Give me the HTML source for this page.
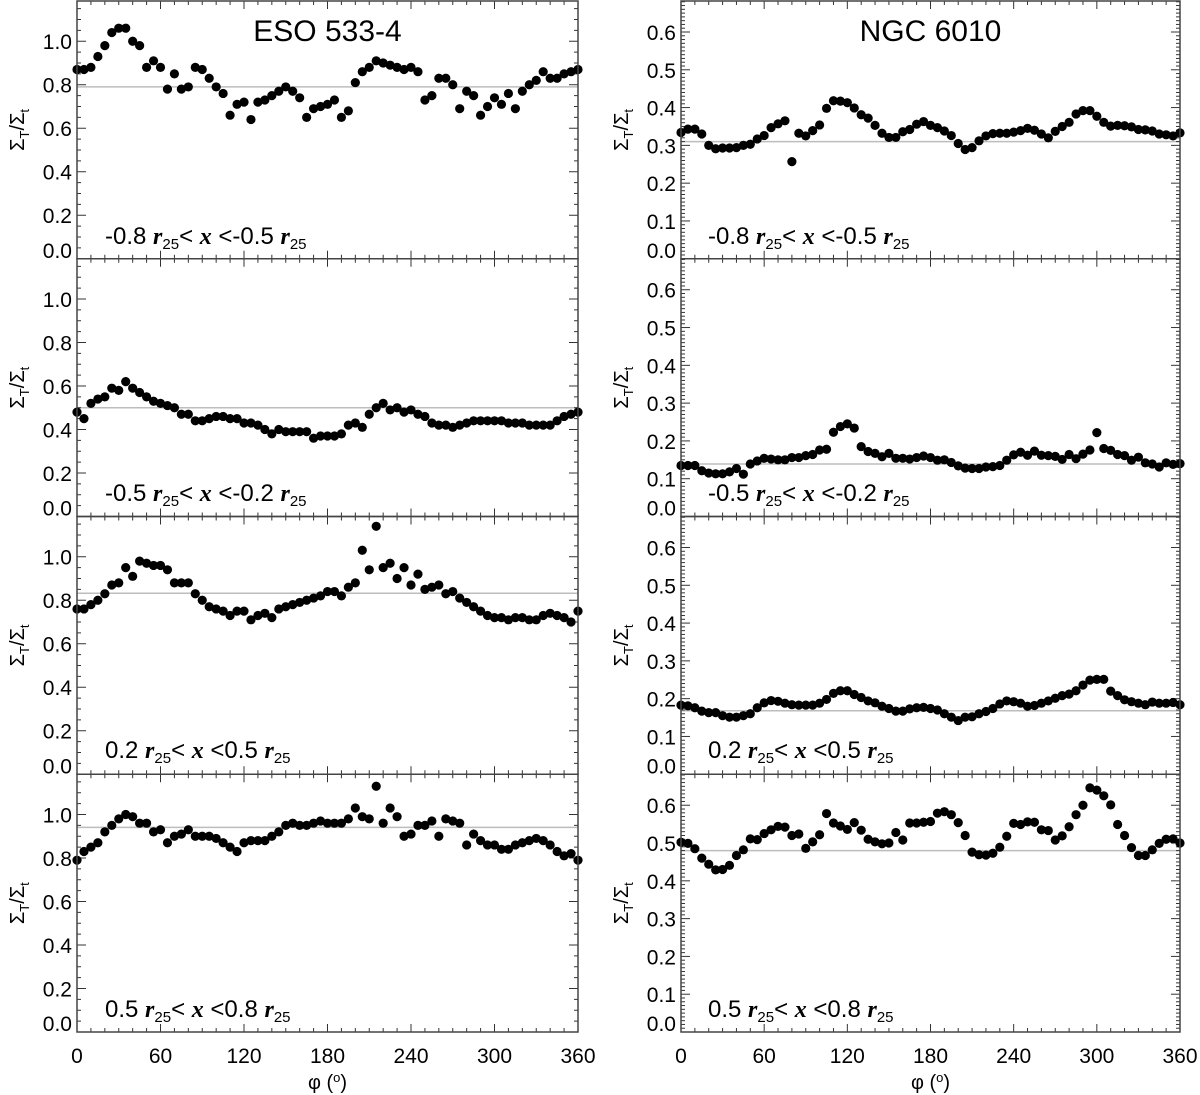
<!DOCTYPE html>
<html><head><meta charset="utf-8"><title>Sigma ratio vs phi</title>
<style>
html,body{margin:0;padding:0;background:#fff;}
svg{display:block;font-family:"Liberation Sans",Arial,sans-serif;}
</style></head>
<body>
<svg id="chart" width="1200" height="1095" viewBox="0 0 1200 1095" xmlns="http://www.w3.org/2000/svg"></svg>
<script>
const phi = [0,5,10,15,20,25,30,35,40,45,50,55,60,65,70,75,80,85,90,95,100,105,110,115,120,125,130,135,140,145,150,155,160,165,170,175,180,185,190,195,200,205,210,215,220,225,230,235,240,245,250,255,260,265,270,275,280,285,290,295,300,305,310,315,320,325,330,335,340,345,350,355,360];
const xTicks = [0,60,120,180,240,300,360];
const leftYTicks = [0.0,0.2,0.4,0.6,0.8,1.0];
const rightYTicks = [0.0,0.1,0.2,0.3,0.4,0.5,0.6];
const panelTitles = ["ESO 533-4","NGC 6010"];
const rangeLow = ["-0.8","-0.5","0.2","0.5"];
const rangeHigh = ["-0.5","-0.2","0.5","0.8"];
const leftMeans = [0.79,0.50,0.832,0.941];
const rightMeans = [0.310,0.139,0.168,0.480];

const eso1 = [0.87,0.87,0.88,0.93,0.98,1.04,1.06,1.06,1.00,0.98,0.88,0.91,0.88,0.78,0.85,0.78,0.79,0.88,0.87,0.83,0.79,0.76,0.66,0.71,0.72,0.64,0.72,0.73,0.75,0.77,0.79,0.77,0.74,0.65,0.69,0.70,0.71,0.73,0.65,0.68,0.81,0.86,0.88,0.91,0.90,0.89,0.88,0.87,0.88,0.86,0.73,0.75,0.83,0.83,0.80,0.69,0.77,0.75,0.66,0.70,0.74,0.71,0.76,0.69,0.77,0.80,0.82,0.86,0.83,0.83,0.85,0.86,0.87];
const eso2 = [0.48,0.45,0.52,0.54,0.55,0.59,0.58,0.62,0.59,0.57,0.55,0.53,0.52,0.51,0.50,0.47,0.47,0.44,0.44,0.45,0.46,0.46,0.45,0.45,0.43,0.43,0.42,0.40,0.38,0.40,0.39,0.39,0.39,0.39,0.36,0.37,0.37,0.37,0.38,0.42,0.43,0.41,0.47,0.50,0.52,0.49,0.50,0.48,0.49,0.47,0.46,0.43,0.42,0.42,0.41,0.42,0.43,0.44,0.44,0.44,0.44,0.44,0.43,0.43,0.43,0.42,0.42,0.42,0.42,0.44,0.46,0.47,0.48];
const eso3 = [0.76,0.76,0.78,0.80,0.83,0.87,0.88,0.95,0.91,0.98,0.97,0.96,0.96,0.94,0.88,0.88,0.88,0.83,0.80,0.77,0.76,0.75,0.73,0.75,0.75,0.71,0.73,0.74,0.72,0.76,0.77,0.78,0.79,0.80,0.81,0.82,0.84,0.84,0.82,0.86,0.88,1.03,0.94,1.14,0.95,0.97,0.90,0.95,0.87,0.92,0.85,0.86,0.87,0.83,0.84,0.81,0.79,0.77,0.75,0.73,0.72,0.72,0.71,0.72,0.72,0.71,0.71,0.73,0.74,0.73,0.72,0.70,0.75];
const eso4 = [0.79,0.83,0.85,0.87,0.92,0.95,0.98,1.00,0.99,0.96,0.96,0.92,0.93,0.87,0.90,0.91,0.93,0.90,0.90,0.90,0.89,0.87,0.85,0.83,0.87,0.88,0.88,0.88,0.90,0.92,0.95,0.96,0.95,0.95,0.96,0.97,0.96,0.96,0.96,0.98,1.03,0.99,0.98,1.13,0.96,1.03,0.99,0.90,0.91,0.95,0.95,0.97,0.90,0.98,0.97,0.96,0.86,0.91,0.88,0.86,0.86,0.84,0.84,0.86,0.87,0.88,0.89,0.88,0.86,0.83,0.81,0.82,0.79];
const ngc1 = [0.334,0.343,0.343,0.330,0.300,0.291,0.293,0.293,0.294,0.300,0.303,0.317,0.326,0.347,0.357,0.365,0.257,0.332,0.325,0.339,0.354,0.398,0.418,0.417,0.413,0.399,0.381,0.372,0.353,0.332,0.321,0.321,0.336,0.342,0.356,0.363,0.353,0.347,0.338,0.326,0.305,0.289,0.294,0.312,0.325,0.331,0.332,0.332,0.335,0.339,0.345,0.340,0.330,0.320,0.337,0.350,0.361,0.383,0.392,0.392,0.377,0.361,0.351,0.353,0.352,0.349,0.342,0.341,0.338,0.330,0.328,0.325,0.333];
const ngc2 = [0.135,0.135,0.135,0.121,0.115,0.113,0.113,0.118,0.127,0.112,0.139,0.147,0.154,0.152,0.150,0.150,0.156,0.156,0.161,0.164,0.176,0.178,0.223,0.238,0.245,0.234,0.185,0.172,0.167,0.158,0.167,0.154,0.154,0.152,0.156,0.160,0.156,0.149,0.150,0.143,0.134,0.128,0.127,0.127,0.131,0.132,0.135,0.149,0.163,0.170,0.162,0.173,0.162,0.161,0.159,0.151,0.164,0.153,0.165,0.176,0.222,0.180,0.175,0.164,0.161,0.149,0.157,0.142,0.139,0.131,0.142,0.138,0.140];
const ngc3 = [0.183,0.181,0.176,0.167,0.163,0.163,0.155,0.151,0.151,0.155,0.160,0.176,0.189,0.195,0.193,0.188,0.184,0.183,0.183,0.183,0.188,0.198,0.214,0.221,0.221,0.211,0.203,0.194,0.189,0.180,0.174,0.167,0.167,0.173,0.176,0.177,0.174,0.170,0.160,0.151,0.142,0.151,0.152,0.160,0.166,0.174,0.186,0.194,0.192,0.188,0.180,0.182,0.188,0.194,0.201,0.208,0.212,0.221,0.236,0.249,0.251,0.251,0.220,0.208,0.197,0.192,0.188,0.184,0.191,0.188,0.188,0.190,0.184];
const ngc4 = [0.502,0.499,0.485,0.460,0.444,0.429,0.430,0.441,0.467,0.482,0.511,0.509,0.525,0.535,0.544,0.542,0.520,0.524,0.486,0.503,0.522,0.578,0.553,0.545,0.536,0.554,0.534,0.510,0.503,0.498,0.500,0.528,0.508,0.553,0.553,0.555,0.557,0.579,0.583,0.575,0.554,0.520,0.476,0.469,0.468,0.473,0.489,0.518,0.552,0.549,0.556,0.555,0.535,0.533,0.508,0.519,0.543,0.575,0.600,0.646,0.640,0.625,0.601,0.549,0.520,0.488,0.467,0.467,0.482,0.499,0.510,0.511,0.500];

const leftSeries = [eso1, eso2, eso3, eso4];
const rightSeries = [ngc1, ngc2, ngc3, ngc4];

const NS = "http://www.w3.org/2000/svg";
const svg = document.getElementById("chart");
function mk(tag, attrs, parent){
  const e = document.createElementNS(NS, tag);
  for (const k in attrs) e.setAttribute(k, attrs[k]);
  (parent || svg).appendChild(e);
  return e;
}
const panelTops = [1, 258.75, 516.5, 774.25];
const panelH = 257.75;
const columns = [
  {x0:77, x1:578, ymax:1.185, major:0.2, minor:0.05, ticks:leftYTicks, series:leftSeries, means:leftMeans, title:panelTitles[0], name:"eso-533-4", labX:105},
  {x0:681, x1:1180, ymax:0.682, major:0.1, minor:0.01, ticks:rightYTicks, series:rightSeries, means:rightMeans, title:panelTitles[1], name:"ngc-6010", labX:708}
];

columns.forEach(function(col, ci){
  const xs = v => col.x0 + (v/360)*(col.x1-col.x0);
  for (let p=0; p<4; p++){
    const top = panelTops[p], bot = top + panelH;
    const ys = v => bot - (v/col.ymax)*panelH;
    const g = mk("g", {});
    
    
    const ml = mk("line", {x1:col.x0, x2:col.x1, y1:ys(col.means[p]), y2:ys(col.means[p]), stroke:"#bdbdbd", "stroke-width":1.5}, g);
    
    
    for (let d=0; d<=360; d+=10){
      const len = (d%60===0) ? 8 : 4;
      const X = xs(d);
      mk("line",{x1:X,x2:X,y1:bot,y2:bot-len,stroke:"#333","stroke-width":1},g);
      mk("line",{x1:X,x2:X,y1:top,y2:top+len,stroke:"#333","stroke-width":1},g);
    }
    const nMinor = Math.round(col.ymax/col.minor);
    for (let k=0; k<=nMinor; k++){
      const v = k*col.minor;
      const isMaj = Math.abs(v/col.major - Math.round(v/col.major)) < 1e-6;
      const len = isMaj ? 9 : 4;
      const Y = ys(v);
      if (Y < top) continue;
      mk("line",{x1:col.x0,x2:col.x0+len,y1:Y,y2:Y,stroke:"#333","stroke-width":1},g);
      mk("line",{x1:col.x1,x2:col.x1-len,y1:Y,y2:Y,stroke:"#333","stroke-width":1},g);
    }
    col.ticks.forEach(function(t){
      let Y = ys(t) + 8;
      if (t === 0) Y -= 9;
      const tl = mk("text",{x:col.x0-5, y:Y, "text-anchor":"end", "font-size":21, fill:"#000"}, g);
      tl.textContent = t.toFixed(1);
      
      
    });
    const cy = top + panelH/2;
    const yt = mk("text",{x:0,y:0,transform:"translate("+(col.x0-53)+","+cy+") rotate(-90)","text-anchor":"middle","font-size":20,fill:"#000"}, g);
    
    
    yt.innerHTML = 'Σ<tspan font-size="13" dy="5">T</tspan><tspan dy="-5">/Σ</tspan><tspan font-size="13" dy="5">t</tspan>';
    const data = col.series[p];
    data.forEach(function(v, i){
      const c = mk("circle",{cx:xs(phi[i]), cy:ys(v), r:4.6, fill:"#000"}, g);
      
      
    });
    const ly = [244, 501, 758, 1017][p];
    const rl = mk("text",{x:col.labX, y:ly, "font-size":24, fill:"#000"}, g);
    
    
    rl.innerHTML = rangeLow[p] + ' <tspan font-family="Liberation Serif,serif" font-style="italic" font-weight="bold">r</tspan><tspan font-size="15" dy="5">25</tspan><tspan dy="-5">&lt; </tspan><tspan font-family="Liberation Serif,serif" font-style="italic" font-weight="bold">x</tspan> &lt;' + rangeHigh[p] + ' <tspan font-family="Liberation Serif,serif" font-style="italic" font-weight="bold">r</tspan><tspan font-size="15" dy="5">25</tspan>';
    const fr = mk("rect",{x:col.x0, y:top, width:col.x1-col.x0, height:panelH, fill:"none", stroke:"#444", "stroke-width":1.5}, g);
    
    
  }
  const tt = mk("text",{x:(col.x0+col.x1)/2, y:41, "text-anchor":"middle", "font-size":30, fill:"#000"});
  tt.textContent = col.title;
  
  
  xTicks.forEach(function(t){
    const xl = mk("text",{x:xs(t), y:1063, "text-anchor":"middle", "font-size":21, fill:"#000"});
    xl.textContent = String(t);
    
    
  });
  const xt = mk("text",{x:(col.x0+col.x1)/2, y:1089, "text-anchor":"middle", "font-size":20, fill:"#000"});
  xt.innerHTML = 'φ (<tspan font-size="13" dy="-7">o</tspan><tspan dy="7">)</tspan>';
  
  
});
</script>
</body></html>
